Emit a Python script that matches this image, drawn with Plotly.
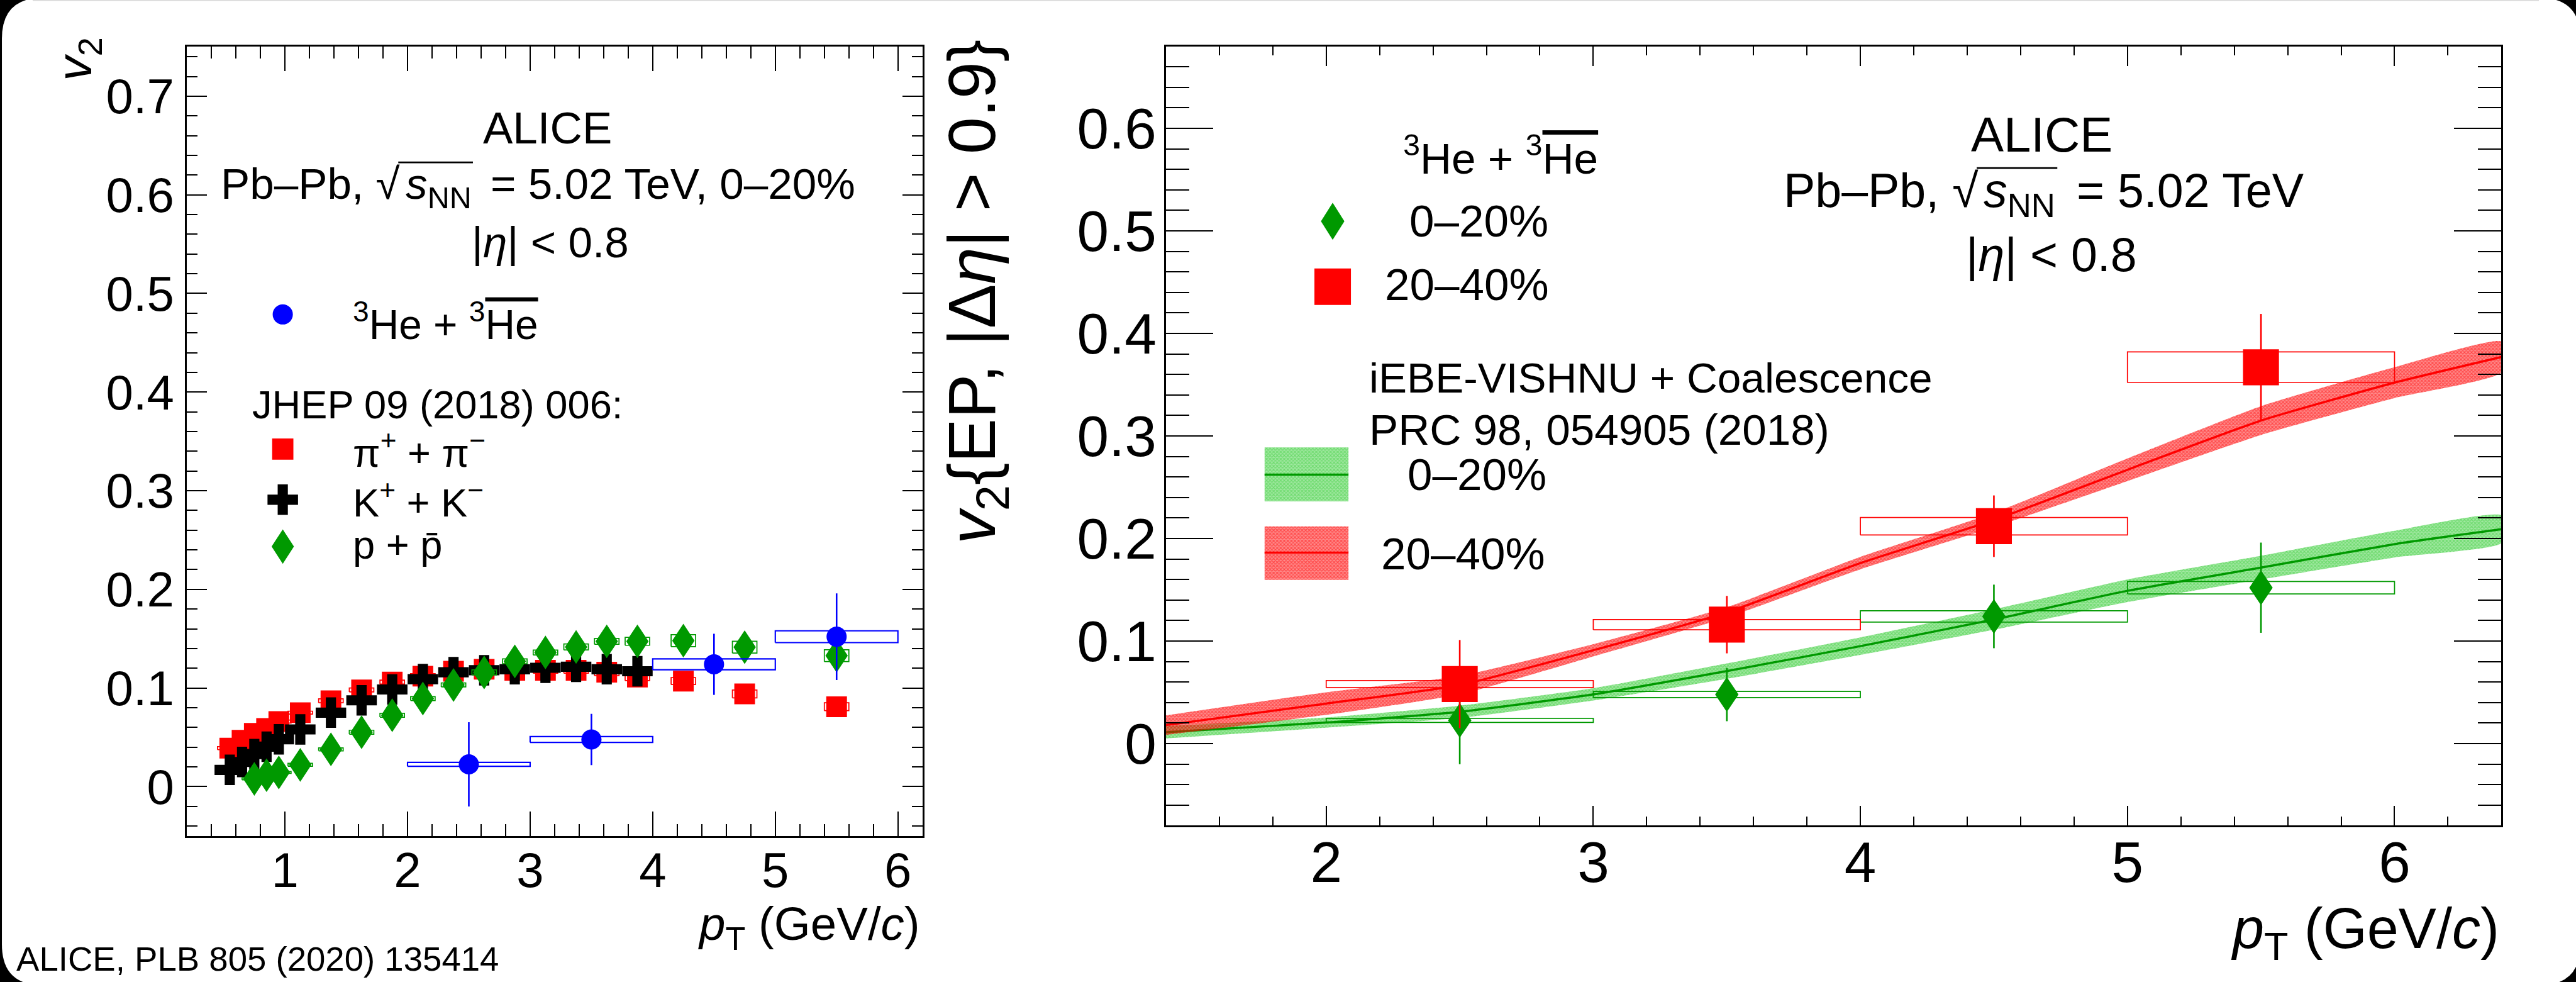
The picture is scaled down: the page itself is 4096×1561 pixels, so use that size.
import plotly.graph_objects as go

# ---------------- data ----------------
# Left panel: 0-20% centrality, identified hadrons (JHEP 09 (2018) 006)
pion_pt = [0.55, 0.65, 0.75, 0.85, 0.95, 1.125, 1.375, 1.625, 1.875, 2.125,
           2.375, 2.625, 2.875, 3.125, 3.375, 3.625, 3.875, 4.25, 4.75, 5.5]
pion_v2 = [0.039, 0.047, 0.054, 0.059, 0.066, 0.075, 0.087, 0.098, 0.106, 0.112,
           0.117, 0.119, 0.118, 0.118, 0.118, 0.116, 0.111, 0.107, 0.094, 0.081]
pion_sys = [0.0015, 0.0015, 0.0015, 0.0015, 0.0015, 0.0015, 0.002, 0.002, 0.002, 0.0025,
            0.0025, 0.003, 0.003, 0.003, 0.003, 0.0035, 0.0035, 0.0035, 0.004, 0.004]

kaon_pt = [0.55, 0.65, 0.75, 0.85, 0.95, 1.125, 1.375, 1.625, 1.875, 2.125,
           2.375, 2.625, 2.875, 3.125, 3.375, 3.625, 3.875]
kaon_v2 = [0.017, 0.025, 0.033, 0.0405, 0.048, 0.058, 0.075, 0.0875, 0.0985, 0.109,
           0.116, 0.118, 0.119, 0.1205, 0.1215, 0.119, 0.117]
kaon_sys = [0.0015, 0.0015, 0.0015, 0.0015, 0.0015, 0.002, 0.002, 0.002, 0.002, 0.0025,
            0.0025, 0.0025, 0.003, 0.003, 0.003, 0.003, 0.0035]

proton_pt = [0.75, 0.85, 0.95, 1.125, 1.375, 1.625, 1.875, 2.125, 2.375, 2.625,
             2.875, 3.125, 3.375, 3.625, 3.875, 4.25, 4.75, 5.5]
proton_v2 = [0.0079, 0.0116, 0.0144, 0.0221, 0.0378, 0.0552, 0.0724, 0.0893, 0.1031, 0.1158,
             0.127, 0.136, 0.1416, 0.1473, 0.1473, 0.148, 0.1414, 0.1328]
proton_sys = [0.001, 0.001, 0.001, 0.0015, 0.0015, 0.002, 0.002, 0.002, 0.002, 0.0025,
              0.0025, 0.0025, 0.003, 0.003, 0.004, 0.006, 0.006, 0.006]

# 3He + anti-3He
he_pt = [2.5, 3.5, 4.5, 5.5]
he_bin_half = [0.5, 0.5, 0.5, 0.5]
he020_v2 = [0.0226, 0.0478, 0.124, 0.152]
he020_stat = [0.0427, 0.026, 0.031, 0.044]
he020_sys = [0.002, 0.003, 0.0055, 0.006]
he2040_v2 = [0.058, 0.116, 0.212, 0.367]
he2040_stat = [0.043, 0.028, 0.030, 0.052]
he2040_sys = [0.0035, 0.005, 0.0085, 0.015]

# iEBE-VISHNU + Coalescence model
model_pt = [1.4, 2.0, 2.5, 3.0, 3.5, 4.0, 4.5, 5.0, 5.5, 6.0, 6.4]
model020 = [0.011, 0.0205, 0.031, 0.048, 0.0707, 0.095, 0.121, 0.149, 0.1716, 0.1945, 0.209]
model020_err = [0.006, 0.005, 0.006, 0.006, 0.0075, 0.0085, 0.01, 0.011, 0.0115, 0.013, 0.0135]
model2040 = [0.018, 0.039, 0.057, 0.091, 0.128, 0.176, 0.218, 0.267, 0.315, 0.352, 0.377]
model2040_err = [0.0095, 0.011, 0.009, 0.006, 0.005, 0.006, 0.007, 0.011, 0.014, 0.015, 0.015]

left_xticks = [1, 2, 3, 4, 5, 6]
left_yticks = [0, 0.1, 0.2, 0.3, 0.4, 0.5, 0.6, 0.7]
right_xticks = [2, 3, 4, 5, 6]
right_yticks = [0, 0.1, 0.2, 0.3, 0.4, 0.5, 0.6]

# ---------------- geometry / style ----------------
W, H = 4096, 1561
RW, RH = 4728, 1802          # reference size; positions below in reference px
S = W / RW


def fx(x):
    return x / RW


def fy(y):
    return 1 - y / RH


def fs(v):
    return v * S


FONT = "Liberation Sans, Arial, Helvetica, sans-serif"
RED, BLACK, GREEN, BLUE = "#ff0000", "#000000", "#009900", "#0000ff"
GREEN_BAND = "#33cc33"

L_FRAME = (343, 86, 1693, 1534)
R_FRAME = (2140, 85, 4591, 1515)
L_XR, L_YR = [0.2, 6.2], [-0.05, 0.75]
R_XR, R_YR = [1.4, 6.4], [-0.08, 0.68]

# reference px per data unit (to size diamond glyphs)
LXU = (L_FRAME[2] - L_FRAME[0]) / (L_XR[1] - L_XR[0])
LYU = (L_FRAME[3] - L_FRAME[1]) / (L_YR[1] - L_YR[0])
RXU = (R_FRAME[2] - R_FRAME[0]) / (R_XR[1] - R_XR[0])
RYU = (R_FRAME[3] - R_FRAME[1]) / (R_YR[1] - R_YR[0])


def pattern(color, alpha_bg):
    r, g, b = int(color[1:3], 16), int(color[3:5], 16), int(color[5:7], 16)
    return dict(shape="x", size=4, solidity=0.5, fgcolor=color,
                bgcolor=f"rgba({r},{g},{b},{alpha_bg})")


def diamonds(xs, ys, hw, hh):
    X, Y = [], []
    for x, y in zip(xs, ys):
        X += [x, x + hw, x, x - hw, x, None]
        Y += [y + hh, y, y - hh, y, y + hh, None]
    return X, Y


def boxes(xs, ys, hws, hys):
    X, Y = [], []
    for x, y, w, h in zip(xs, ys, hws, hys):
        X += [x - w, x + w, x + w, x - w, x - w, None]
        Y += [y - h, y - h, y + h, y + h, y - h, None]
    return X, Y


fig = go.Figure()


# ---------------- left panel ----------------
def add_hadron(xs, ys, sys, color, symbol, size):
    bx, by = boxes(xs, ys, [0.1] * len(xs), sys)
    fig.add_trace(go.Scatter(x=bx, y=by, mode="lines", xaxis="x", yaxis="y",
                             line=dict(color=color, width=fs(2)), hoverinfo="skip"))
    if symbol == "diamond":
        dx, dy = diamonds(xs, ys, 20.5 / LXU, 31 / LYU)
        fig.add_trace(go.Scatter(x=dx, y=dy, mode="lines", fill="toself", fillcolor=color,
                                 line=dict(color=color, width=0), xaxis="x", yaxis="y",
                                 hoverinfo="skip"))
    else:
        fig.add_trace(go.Scatter(x=xs, y=ys, mode="markers", xaxis="x", yaxis="y",
                                 marker=dict(symbol=symbol, size=size, color=color,
                                             line=dict(width=0))))


add_hadron(pion_pt, pion_v2, pion_sys, RED, "square", fs(38))
add_hadron(kaon_pt, kaon_v2, kaon_sys, BLACK, "cross", fs(56) / 1.2)
add_hadron(proton_pt, proton_v2, proton_sys, GREEN, "diamond", 0)

bx, by = boxes(he_pt, he020_v2, he_bin_half, he020_sys)
fig.add_trace(go.Scatter(x=bx, y=by, mode="lines", line=dict(color=BLUE, width=fs(2.5)),
                         hoverinfo="skip"))
fig.add_trace(go.Scatter(x=he_pt, y=he020_v2, mode="markers",
                         marker=dict(symbol="circle", size=fs(37), color=BLUE, line=dict(width=0)),
                         error_y=dict(type="data", array=he020_stat, color=BLUE,
                                      thickness=fs(3), width=0)))


# ---------------- right panel ----------------
def add_band(xs, ys, err, color, fg):
    up = [y + e for y, e in zip(ys, err)]
    lo = [y - e for y, e in zip(ys, err)]
    fig.add_trace(go.Scatter(x=list(xs) + list(xs)[::-1], y=up + lo[::-1], mode="lines",
                             fill="toself", fillcolor="rgba(255,255,255,0)",
                             fillpattern=pattern(fg, 0.45),
                             line=dict(width=0, shape="spline", smoothing=0.5),
                             xaxis="x2", yaxis="y2", hoverinfo="skip"))
    fig.add_trace(go.Scatter(x=xs, y=ys, mode="lines", xaxis="x2", yaxis="y2",
                             line=dict(color=color, width=fs(4), shape="spline", smoothing=0.5),
                             hoverinfo="skip"))


add_band(model_pt, model020, model020_err, GREEN, GREEN_BAND)
add_band(model_pt, model2040, model2040_err, RED, RED)

# 0-20% (green diamonds)
bx, by = boxes(he_pt, he020_v2, he_bin_half, he020_sys)
fig.add_trace(go.Scatter(x=bx, y=by, mode="lines", xaxis="x2", yaxis="y2",
                         line=dict(color=GREEN, width=fs(2)), hoverinfo="skip"))
fig.add_trace(go.Scatter(x=he_pt, y=he020_v2, mode="markers", xaxis="x2", yaxis="y2",
                         marker=dict(size=1, color="rgba(0,0,0,0)"),
                         error_y=dict(type="data", array=he020_stat, color=GREEN,
                                      thickness=fs(3), width=0)))
dx, dy = diamonds(he_pt, he020_v2, 21.5 / RXU, 32 / RYU)
fig.add_trace(go.Scatter(x=dx, y=dy, mode="lines", fill="toself", fillcolor=GREEN,
                         line=dict(color=GREEN, width=0), xaxis="x2", yaxis="y2",
                         hoverinfo="skip"))
# 20-40% (red squares)
bx, by = boxes(he_pt, he2040_v2, he_bin_half, he2040_sys)
fig.add_trace(go.Scatter(x=bx, y=by, mode="lines", xaxis="x2", yaxis="y2",
                         line=dict(color=RED, width=fs(2)), hoverinfo="skip"))
fig.add_trace(go.Scatter(x=he_pt, y=he2040_v2, mode="markers", xaxis="x2", yaxis="y2",
                         marker=dict(symbol="square", size=fs(66), color=RED, line=dict(width=0)),
                         error_y=dict(type="data", array=he2040_stat, color=RED,
                                      thickness=fs(3), width=0)))

# ---------------- legend glyphs (overlay axes in reference px) ----------------
OV = dict(xaxis="x3", yaxis="y3", hoverinfo="skip")
fig.add_trace(go.Scatter(x=[519], y=[577], mode="markers",
                         marker=dict(symbol="circle", size=fs(37), color=BLUE, line=dict(width=0)), **OV))
fig.add_trace(go.Scatter(x=[519], y=[824], mode="markers",
                         marker=dict(symbol="square", size=fs(39), color=RED, line=dict(width=0)), **OV))
fig.add_trace(go.Scatter(x=[519], y=[917], mode="markers",
                         marker=dict(symbol="cross", size=fs(56) / 1.2, color=BLACK, line=dict(width=0)), **OV))
dx, dy = diamonds([519], [1003], 20.5, 31.5)
fig.add_trace(go.Scatter(x=dx, y=dy, mode="lines", fill="toself", fillcolor=GREEN,
                         line=dict(width=0, color=GREEN), **OV))
dx, dy = diamonds([2446], [406], 21.5, 34)
fig.add_trace(go.Scatter(x=dx, y=dy, mode="lines", fill="toself", fillcolor=GREEN,
                         line=dict(width=0, color=GREEN), **OV))
fig.add_trace(go.Scatter(x=[2446], y=[526], mode="markers",
                         marker=dict(symbol="square", size=fs(67), color=RED, line=dict(width=0)), **OV))
for (y0, y1, ym, fg, lc) in [(821, 920, 871, GREEN_BAND, GREEN), (966, 1064, 1014, RED, RED)]:
    fig.add_trace(go.Scatter(x=[2321, 2475, 2475, 2321, 2321], y=[y0, y0, y1, y1, y0], mode="lines",
                             fill="toself", fillcolor="rgba(255,255,255,0)",
                             fillpattern=pattern(fg, 0.45),
                             line=dict(width=0), **OV))
    fig.add_trace(go.Scatter(x=[2321, 2475], y=[ym, ym], mode="lines",
                             line=dict(color=lc, width=fs(4)), **OV))


# ---------------- axes ----------------
def axis_common(tickfont_size, tlen, mlen, dtick, mdtick, rng, dom, anchor, standoff):
    return dict(range=rng, domain=dom, anchor=anchor, showgrid=False, zeroline=False,
                showline=True, linecolor="black", linewidth=fs(3), mirror="allticks",
                ticks="inside", ticklen=fs(tlen), tickwidth=fs(2.5), tickcolor="black",
                tick0=0, dtick=dtick, ticklabelstandoff=standoff,
                tickfont=dict(family=FONT, size=fs(tickfont_size), color="black"),
                minor=dict(ticks="inside", ticklen=fs(mlen), tickwidth=fs(2.5),
                           tickcolor="black", dtick=mdtick, tick0=0, showgrid=False))


layout = dict(
    width=W, height=H, autosize=False, margin=dict(l=0, r=0, t=0, b=0, pad=0),
    paper_bgcolor="black", plot_bgcolor="rgba(0,0,0,0)", showlegend=False,
    font=dict(family=FONT, color="black"),
    xaxis=axis_common(90, 45, 22, 1, 0.2, L_XR, [fx(L_FRAME[0]), fx(L_FRAME[2])], "y", -15),
    yaxis=axis_common(90, 37, 20, 0.1, 0.02, L_YR, [fy(L_FRAME[3]), fy(L_FRAME[1])], "x", 2),
    xaxis2=axis_common(105, 36, 17, 1, 0.2, R_XR, [fx(R_FRAME[0]), fx(R_FRAME[2])], "y2", -22),
    yaxis2=axis_common(105, 87, 43, 0.1, 0.02, R_YR, [fy(R_FRAME[3]), fy(R_FRAME[1])], "x2", -6),
    xaxis3=dict(range=[0, RW], domain=[0, 1], anchor="y3", visible=False, fixedrange=True),
    yaxis3=dict(range=[RH, 0], domain=[0, 1], anchor="x3", visible=False, fixedrange=True),
)
fig.update_layout(**layout)

# white rounded "window" behind everything, with a faint grey top edge
r = 75
x0, x1, y0, y1 = 3.5, RW + 8, -4, RH + 6


def P(x, y):
    return f"{fx(x):.6f},{fy(y):.6f}"


path = (f"M {P(x0 + r, y0)} L {P(x1 - r, y0)} Q {P(x1, y0)} {P(x1, y0 + r)} "
        f"L {P(x1, y1 - r)} Q {P(x1, y1)} {P(x1 - r, y1)} L {P(x0 + r, y1)} "
        f"Q {P(x0, y1)} {P(x0, y1 - r)} L {P(x0, y0 + r)} Q {P(x0, y0)} {P(x0 + r, y0)} Z")
fig.add_shape(type="path", path=path, xref="paper", yref="paper", layer="below",
              fillcolor="white", line=dict(width=0))
fig.add_shape(type="line", xref="paper", yref="paper", x0=fx(60), x1=fx(4660),
              y0=fy(1), y1=fy(1), layer="below", line=dict(color="#d8d8d8", width=1.5))

# ---------------- texts ----------------
OVL = '<span style="text-decoration:overline">'
HE = f'<sup>3</sup>He + <sup>3</sup>{OVL}He</span>'
ETA = '|<i>η</i>| < 0.8'


def text(t, x, y, size, xanchor="center", yanchor="middle", angle=0):
    fig.add_annotation(text=t, x=fx(x), y=fy(y), xref="paper", yref="paper", showarrow=False,
                       xanchor=xanchor, yanchor=yanchor, textangle=angle,
                       font=dict(family=FONT, size=fs(size), color="black"))


def sqrt_line(parts, baseline, size, bar):
    """Pb–Pb, √s_NN = ... set as three pieces sharing one baseline; bar = radical vinculum."""
    top = baseline - 0.905 * size
    (t1, x1r), (t2, x2l), (t3, x3l) = parts
    text(t1, x1r, top, size, xanchor="right", yanchor="top")
    text(t2, x2l, top, size, xanchor="left", yanchor="top")
    text(t3, x3l, top, size, xanchor="left", yanchor="top")
    bx0, bx1 = bar
    by = baseline - 0.80 * size
    fig.add_shape(type="line", xref="paper", yref="paper", x0=fx(bx0), x1=fx(bx1),
                  y0=fy(by), y1=fy(by), line=dict(color="black", width=fs(3)))


# left panel
text("ALICE", 1005, 235, 82)
sqrt_line([("Pb–Pb, √", 737), ("<i>s</i><sub>NN</sub>", 742), ("= 5.02 TeV, 0–20%", 898)],
          362, 80, (731, 868))
text(ETA, 1010, 445, 80)
text(HE, 645, 590, 76, xanchor="left")
text("JHEP 09 (2018) 006:", 460, 742, 73, xanchor="left")
text("π<sup>+</sup> + π<sup>−</sup>", 645, 825, 73, xanchor="left")
text("K<sup>+</sup> + K<sup>−</sup>", 645, 917, 73, xanchor="left")
text("p + p\u0304", 645, 1000, 73, xanchor="left")
# right panel
text("ALICE", 3748, 247, 90)
sqrt_line([("Pb–Pb, √", 3634), ("<i>s</i><sub>NN</sub>", 3638), ("= 5.02 TeV", 3809)],
          378, 87, (3628, 3776))
text(ETA, 3765, 468, 87)
text(HE, 2754, 285, 80)
text("0–20%", 2585, 406, 82, xanchor="left")
text("20–40%", 2540, 522, 82, xanchor="left")
text("iEBE-VISHNU + Coalescence", 2511, 693, 78, xanchor="left")
text("PRC 98, 054905 (2018)", 2511, 788, 80, xanchor="left")
text("0–20%", 2581, 871, 82, xanchor="left")
text("20–40%", 2533, 1016, 82, xanchor="left")
# axis titles
text("<i>p</i><sub>T</sub> (GeV/<i>c</i>)", 1691, 1702, 86, xanchor="right")
text("<i>p</i><sub>T</sub> (GeV/<i>c</i>)", 4589, 1643, 104, xanchor="right", yanchor="top")
text("<i>v</i><sub>2</sub>", 143, 66, 90, yanchor="top", angle=-90)
text("<i>v</i><sub>2</sub>{EP, |Δ<i>η</i>| > 0.9}", 1792, 70, 122, yanchor="top", angle=-90)
# credit
text("ALICE, PLB 805 (2020) 135414", 28, 1760, 63, xanchor="left")

fig.write_html("out.html")
